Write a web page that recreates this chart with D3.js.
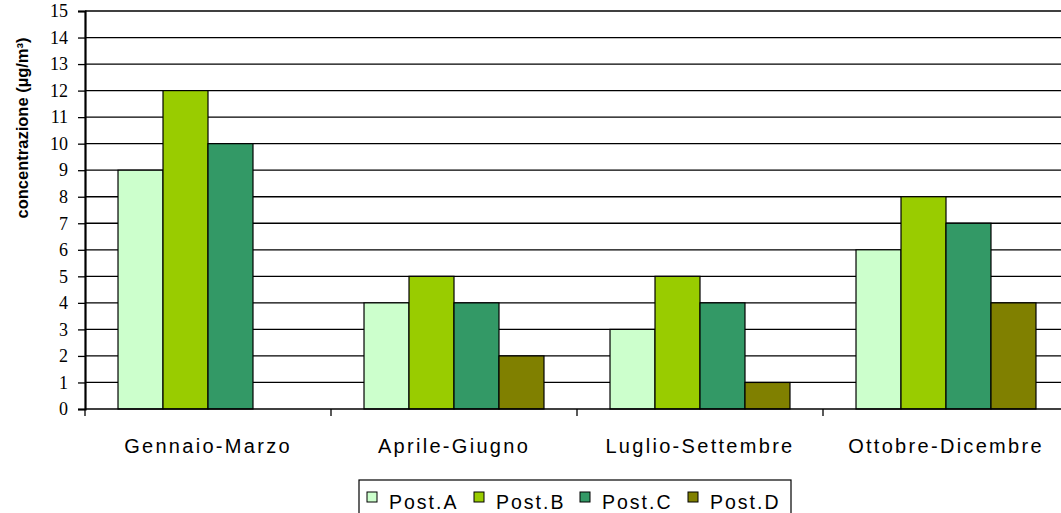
<!DOCTYPE html>
<html>
<head>
<meta charset="utf-8">
<script src="https://cdn.jsdelivr.net/npm/d3@7"></script>
<style>
  html, body { margin: 0; padding: 0; background: #fff; }
  svg { display: block; }
</style>
</head>
<body>
<svg id="chart" width="1061" height="513"></svg>
<script>
// Quarterly concentrations per monitoring station
const categories = ["Gennaio-Marzo", "Aprile-Giugno", "Luglio-Settembre", "Ottobre-Dicembre"];
const seriesNames = ["Post.A", "Post.B", "Post.C", "Post.D"];
const postA = [9, 4, 3, 6];
const postB = [12, 5, 5, 8];
const postC = [10, 4, 4, 7];
const postD = [null, 2, 1, 4];
const seriesValues = [postA, postB, postC, postD];
const colors = ["#CCFFCC", "#99CC00", "#339966", "#808000"];
const yTicks = d3.range(0, 16);

const svg = d3.select("#chart");
const margin = { left: 85, top: 11, right: -8, bottom: 104 };
const W = 1061, H = 513;
const plotW = W - margin.left - margin.right;
const plotH = H - margin.top - margin.bottom;

const x0 = d3.scaleBand().domain(categories).range([0, plotW]).paddingInner(0.2684).paddingOuter(0.1342);
const x1 = d3.scaleBand().domain(seriesNames).range([0, x0.bandwidth()]);
const y = d3.scaleLinear().domain([0, 15]).range([plotH, 0]);

const g = svg.append("g").attr("transform", `translate(${margin.left},${margin.top})`);

// horizontal gridlines
g.append("g").selectAll("line").data(yTicks.filter(d => d > 0)).join("line")
  .attr("x1", 0).attr("x2", plotW)
  .attr("y1", d => y(d)).attr("y2", d => y(d))
  .attr("stroke", "#000").attr("stroke-width", 1.3);

// bars
const groups = g.append("g").selectAll("g").data(categories).join("g")
  .attr("transform", d => `translate(${x0(d)},0)`);
groups.selectAll("rect")
  .data((c, ci) => seriesNames.map((s, si) => ({ s, si, v: seriesValues[si][ci] })).filter(d => d.v != null))
  .join("rect")
  .attr("x", d => x1(d.s))
  .attr("y", d => y(d.v))
  .attr("width", x1.bandwidth())
  .attr("height", d => y(0) - y(d.v))
  .attr("fill", d => colors[d.si])
  .attr("stroke", "#000").attr("stroke-width", 1.2);

// y axis
const yAxis = g.append("g").call(d3.axisLeft(y).tickValues(yTicks).tickSize(7).tickPadding(10));
yAxis.select(".domain").attr("stroke-width", 2.2);
yAxis.selectAll(".tick line").attr("stroke-width", 1.3);
yAxis.selectAll("text").attr("font-family", "Liberation Serif, Times New Roman, serif").attr("font-size", 18).attr("fill", "#000");

// x axis with boundary ticks between categories
const xAxisG = g.append("g").attr("transform", `translate(0,${plotH})`);
xAxisG.append("line").attr("x1", 0).attr("x2", plotW).attr("stroke", "#000").attr("stroke-width", 1.5);
const step = x0.step();
xAxisG.selectAll("line.tk").data(d3.range(0, categories.length + 1)).join("line")
  .attr("class", "tk")
  .attr("x1", i => i * step).attr("x2", i => i * step)
  .attr("y1", 0).attr("y2", 7)
  .attr("stroke", "#000").attr("stroke-width", 1.3);
xAxisG.selectAll("text").data(categories).join("text")
  .attr("x", d => x0(d) + x0.bandwidth() / 2)
  .attr("y", 44)
  .attr("text-anchor", "middle")
  .attr("font-family", "Liberation Sans, Arial, sans-serif")
  .attr("font-size", 20)
  .attr("letter-spacing", 2.3)
  .text(d => d);

// y axis title
svg.append("text")
  .attr("transform", `translate(28,128) rotate(-90)`)
  .attr("text-anchor", "middle")
  .attr("font-family", "Liberation Sans, Arial, sans-serif")
  .attr("font-weight", "bold")
  .attr("font-size", 16.5)
  .text("concentrazione (µg/m³)");

// legend
const leg = svg.append("g").attr("transform", "translate(359,480)");
leg.append("rect").attr("x", 0).attr("y", 0).attr("width", 432).attr("height", 40)
  .attr("fill", "#fff").attr("stroke", "#000").attr("stroke-width", 1.2);
const legX = [8, 115, 221, 329];
const items = leg.selectAll("g").data(seriesNames).join("g")
  .attr("transform", (d, i) => `translate(${legX[i]},0)`);
items.append("rect").attr("x", 0).attr("y", 12).attr("width", 10).attr("height", 10)
  .attr("fill", (d, i) => colors[i]).attr("stroke", "#000").attr("stroke-width", 1);
items.append("text").attr("x", 22).attr("y", 28.5)
  .attr("font-family", "Liberation Sans, Arial, sans-serif")
  .attr("font-size", 19.5)
  .attr("letter-spacing", 2)
  .text(d => d);
</script>
</body>
</html>
